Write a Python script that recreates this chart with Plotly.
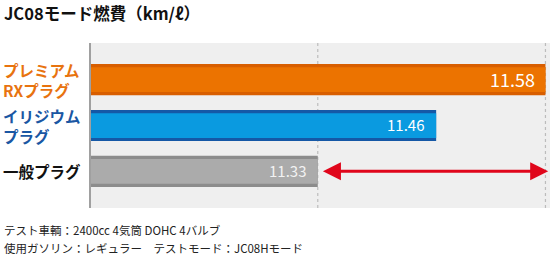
import plotly.graph_objects as go

# ---- data ----
categories = ["プレミアムRXプラグ", "イリジウムプラグ", "一般プラグ"]
label_lines = [["プレミアム", "RXプラグ"], ["イリジウム", "プラグ"], ["一般プラグ"]]
values = [11.58, 11.46, 11.33]
value_text = ["11.58", "11.46", "11.33"]
title_text = "JC08モード燃費（km/ℓ）"
notes = ["テスト車輌：2400cc 4気筒 DOHC 4バルブ", "使用ガソリン：レギュラー　テストモード：JC08Hモード"]

# ---- styles ----
main_colors = ["#ec7300", "#0a9ae0", "#ababab"]
edge_colors = ["#d85e00", "#1558a6", "#8c8c8c"]
label_colors = ["#e8730f", "#1a57a3", "#111111"]
text_sizes = [18, 15, 15]
text_shift = [-8, -10, -10]
text_colors = ["#ffffff", "#ffffff", "#f2f2f2"]
FONT = "Noto Sans CJK JP"

ypos = list(range(len(categories)))

fig = go.Figure()
fig.add_trace(go.Bar(y=ypos, x=values, orientation="h", width=0.68,
                     marker=dict(color=edge_colors, line_width=0),
                     hoverinfo="skip"))
fig.add_trace(go.Bar(y=ypos, x=values, orientation="h", width=0.54,
                     marker=dict(color=main_colors, line_width=0),
                     hoverinfo="skip"))

# value labels inside bar ends
for i, v in enumerate(values):
    fig.add_annotation(x=v, y=ypos[i], xref="x", yref="y", text=value_text[i],
                       showarrow=False, xanchor="right", yanchor="middle",
                       xshift=text_shift[i], yshift=1,
                       font=dict(size=text_sizes[i], color=text_colors[i], family=FONT))

x0 = 11.081
x1 = 11.585

# dashed reference lines at the lowest and highest values
for v in (min(values), max(values)):
    fig.add_shape(type="line", xref="x", yref="paper", x0=v, x1=v, y0=0, y1=1,
                  line=dict(color="#bcbcbc", width=1.2, dash="dot"), layer="below")

# double arrow from lowest to highest value
fig.add_annotation(x=max(values) + 0.003, y=2, ax=min(values) + 0.004, ay=2,
                   xref="x", yref="y", axref="x", ayref="y", text="",
                   showarrow=True, arrowhead=2, startarrowhead=2, arrowside="end+start",
                   arrowsize=1.2, startarrowsize=1.2, arrowwidth=3, arrowcolor="#e0061b")

# category labels
for i, lines in enumerate(label_lines):
    fig.add_annotation(x=0.0, xref="paper", xshift=-89, y=ypos[i], yref="y",
                       text="<br>".join("<b>" + ln + "</b>" for ln in lines),
                       showarrow=False, align="left",
                       xanchor="left", yanchor="middle", borderpad=0,
                       font=dict(size=15.5, color=label_colors[i], family=FONT))

# title
fig.add_annotation(x=0, y=1, xref="paper", yref="paper", xshift=-89, yshift=30,
                   text="<b>" + title_text + "</b>", showarrow=False,
                   xanchor="left", yanchor="middle",
                   font=dict(size=16.5, color="#111111", family=FONT))

# notes
for k, t in enumerate(notes):
    fig.add_annotation(x=0, y=0, xref="paper", yref="paper", xshift=-89,
                       yshift=-22 - k * 18, text=t, showarrow=False,
                       xanchor="left", yanchor="middle",
                       font=dict(size=11.5, color="#222222", family=FONT))

fig.update_layout(
    width=550, height=257,
    margin=dict(l=91, r=0, t=43, b=49),
    paper_bgcolor="white", plot_bgcolor="#efefef",
    barmode="overlay", showlegend=False,
    xaxis=dict(range=[x0, x1], showgrid=False, zeroline=False, showticklabels=False,
               ticks="", fixedrange=True),
    yaxis=dict(range=[2.8, -0.8], showgrid=False, zeroline=False, showticklabels=False,
               ticks="", showline=True, linecolor="#a0a0a0", linewidth=1.5,
               fixedrange=True),
    font=dict(family=FONT),
)

fig.write_html("out.html")
